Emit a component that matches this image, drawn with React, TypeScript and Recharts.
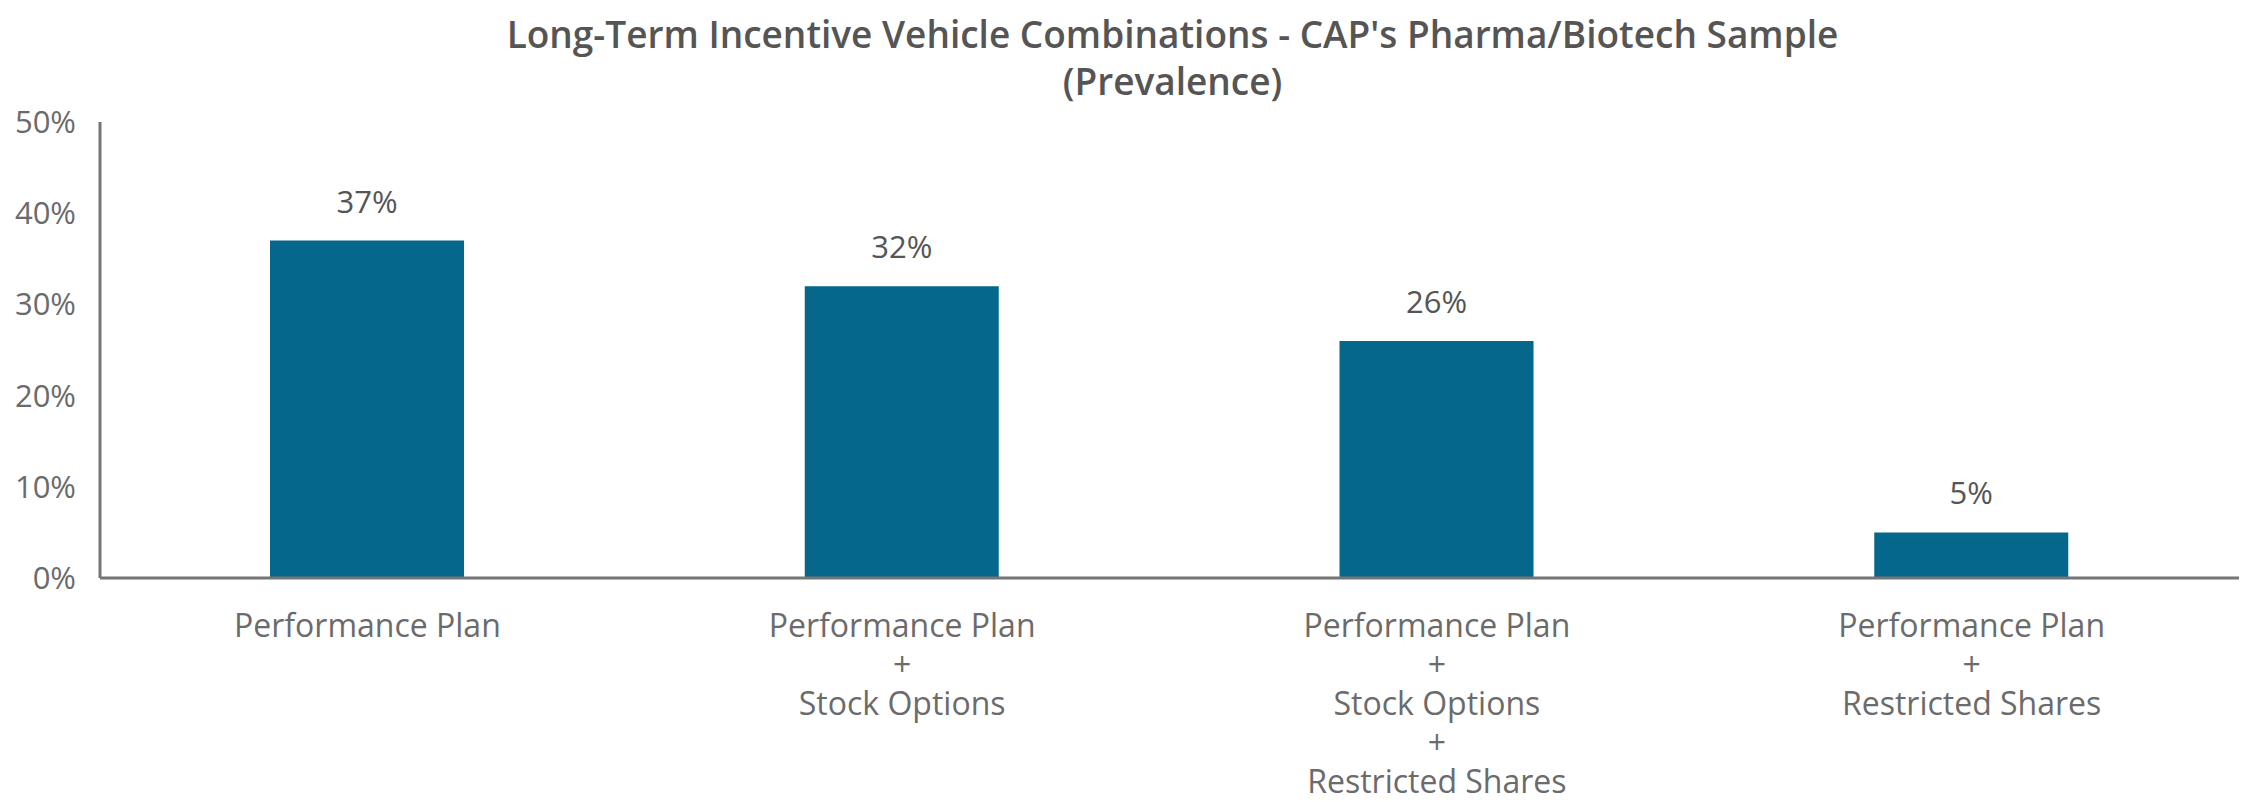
import { Bar, BarChart, LabelList, XAxis, YAxis } from "recharts";

// Prevalence of LTI vehicle combinations (CAP pharma/biotech sample)
const categories = [
  "Performance Plan",
  "Performance Plan|+|Stock Options",
  "Performance Plan|+|Stock Options|+|Restricted Shares",
  "Performance Plan|+|Restricted Shares",
];
const prevalence = [37, 32, 26, 5];
const yTicks = [0, 10, 20, 30, 40, 50];
const titleLines = [
  "Long-Term Incentive Vehicle Combinations - CAP's Pharma/Biotech Sample",
  "(Prevalence)",
];

const data = categories.map((name, i) => ({ name, value: prevalence[i] }));

const FONT = "'Open Sans', Lato, sans-serif";
const TEXT = "#6b6b6b";
const DARK = "#555555";
const BAR = "#05678c";
const AXIS = "#757575";

function CategoryTick({ x, y, payload }: any) {
  const lines = String(payload.value).split("|");
  return (
    <g transform={`translate(${x},${y})`}>
      {lines.map((line, i) => (
        <text
          key={i}
          x={0}
          y={51 + i * 39}
          textAnchor="middle"
          fill={TEXT}
          fontSize={32}
          fontFamily={FONT}
        >
          {line}
        </text>
      ))}
    </g>
  );
}

export default function App() {
  return (
    <div
      style={{
        position: "absolute",
        top: 0,
        left: 0,
        width: 2250,
        height: 802,
        background: "#fff",
        fontFamily: FONT,
      }}
    >
      {titleLines.map((t, i) => (
        <div
          key={i}
          style={{
            position: "absolute",
            left: 0,
            width: 2345,
            top: 12 + i * 47,
            textAlign: "center",
            fontSize: 37,
            fontWeight: 600,
            color: DARK,
            lineHeight: "44px",
          }}
        >
          {t}
        </div>
      ))}
      <BarChart
        width={2250}
        height={802}
        data={data}
        margin={{ top: 122, right: 11, bottom: 0, left: 0 }}
        barSize={194}
      >
        <XAxis
          dataKey="name"
          interval={0}
          tickLine={false}
          axisLine={{ stroke: AXIS, strokeWidth: 3 }}
          tick={<CategoryTick />}
          height={224}
        />
        <YAxis
          width={100}
          domain={[0, 50]}
          ticks={yTicks}
          tickLine={false}
          axisLine={{ stroke: AXIS, strokeWidth: 3 }}
          tickFormatter={(v: number) => `${v}%`}
          tick={{ fill: TEXT, fontSize: 31, fontFamily: FONT }}
          tickMargin={18}
        />
        <Bar dataKey="value" fill={BAR} isAnimationActive={false}>
          <LabelList
            dataKey="value"
            position="top"
            offset={28}
            formatter={(v: any) => `${v}%`}
            fill={DARK}
            fontSize={31}
            fontFamily={FONT}
          />
        </Bar>
      </BarChart>
    </div>
  );
}
